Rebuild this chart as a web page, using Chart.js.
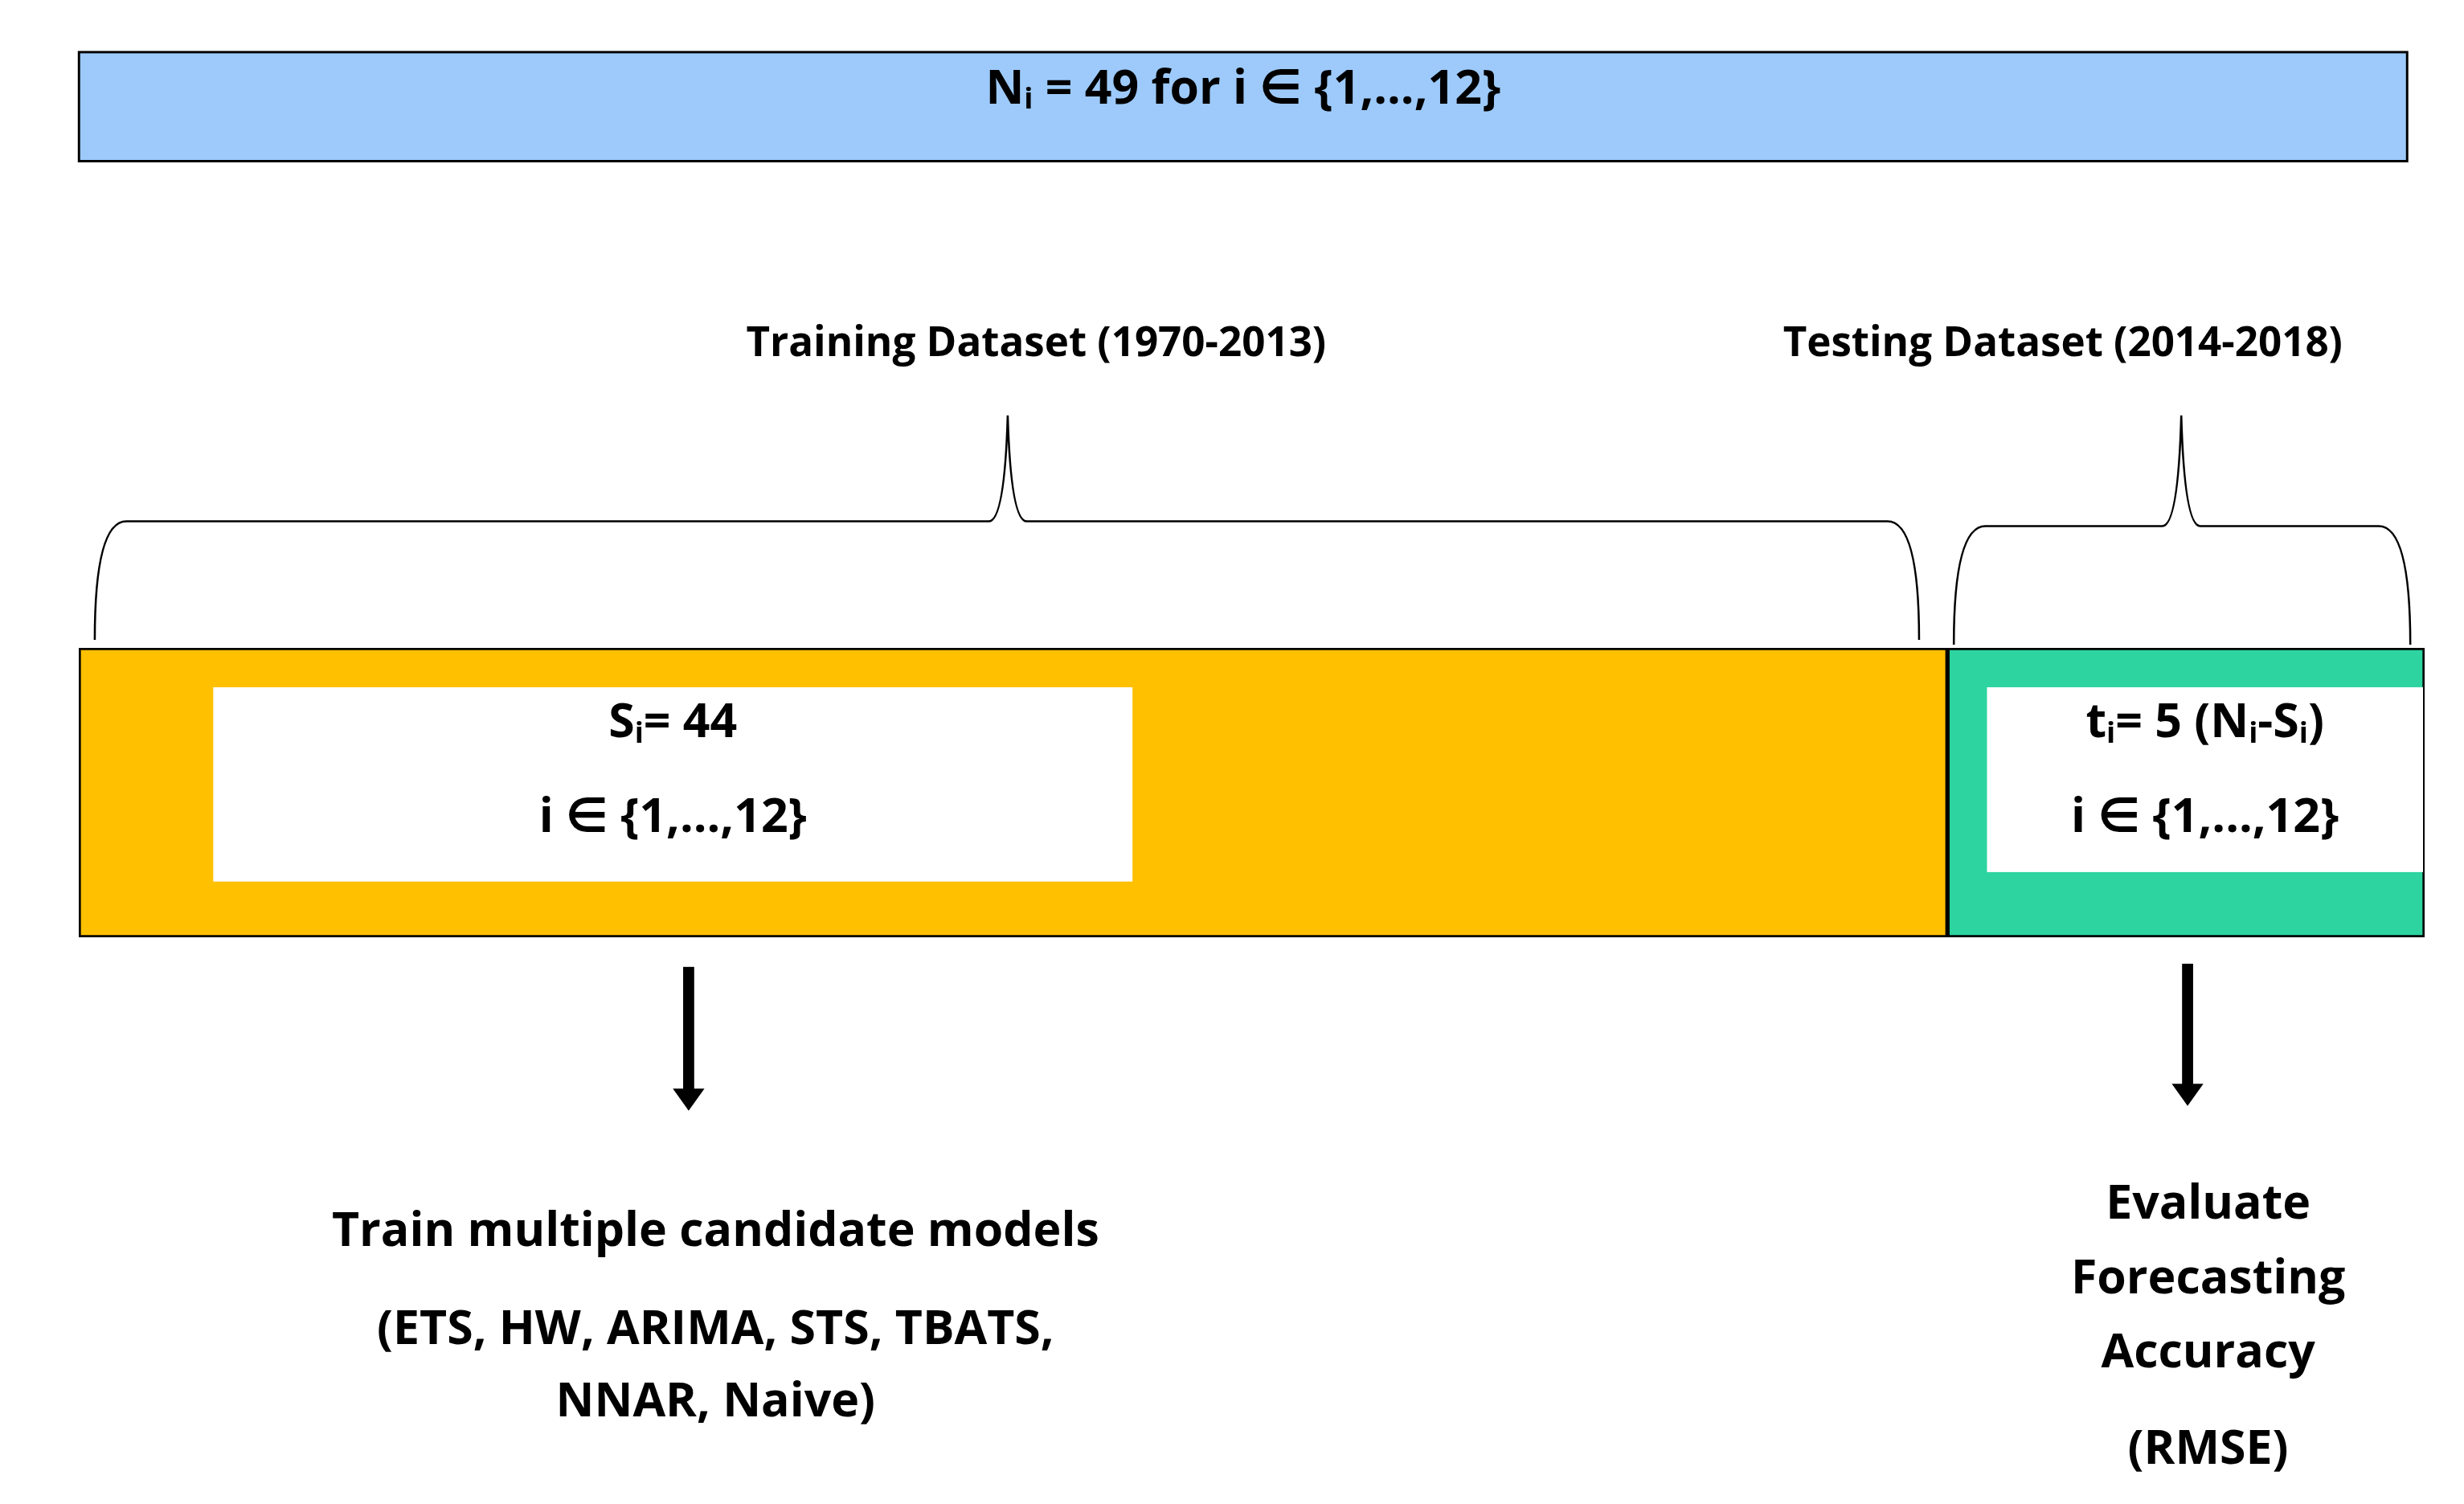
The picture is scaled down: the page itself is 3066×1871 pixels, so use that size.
<!DOCTYPE html>
<html><head><meta charset="utf-8">
<script src="https://cdn.jsdelivr.net/npm/chart.js@4"></script>
<style>html,body{margin:0;padding:0;background:#fff}#c{display:block}</style>
</head><body>
<div style="width:3066px;height:1871px"><canvas id="c"></canvas></div>
<script>
// Data
const segments = ['Training Dataset (1970-2013)', 'Testing Dataset (2014-2018)'];
const years = [44, 5];            // S_i and t_i
const layoutSpan = [[0, 79.66], [79.66, 100]]; // share of the timeline bar (diagram layout)
const colors = ['#FFC000', '#2DD4A0'];
const totalN = 49;

const S = 3066 / 1560;
const F = '"Open Sans", "DejaVu Sans", sans-serif';

function rich(ctx, parts, cx, cy, size) {
  const sub = size * 0.62;
  let w = 0;
  parts.forEach(p => { ctx.font = `bold ${p[1] ? sub : size}px ${F}`; p.w = ctx.measureText(p[0]).width; w += p.w; });
  let x = cx - w / 2;
  ctx.textBaseline = 'middle'; ctx.textAlign = 'left'; ctx.fillStyle = '#000';
  parts.forEach(p => { ctx.font = `bold ${p[1] ? sub : size}px ${F}`; ctx.fillText(p[0], x, cy + (p[1] ? size * 0.22 : 0)); x += p.w; });
}
function brace(ctx, x1, x2, xt, yl, yb, yt) {
  ctx.beginPath();
  ctx.moveTo(x1, yb);
  ctx.quadraticCurveTo(x1, yl, x1 + 20, yl);
  ctx.lineTo(xt - 12, yl);
  ctx.quadraticCurveTo(xt - 2, yl, xt, yt);
  ctx.quadraticCurveTo(xt + 2, yl, xt + 12, yl);
  ctx.lineTo(x2 - 20, yl);
  ctx.quadraticCurveTo(x2, yl, x2, yb);
  ctx.lineWidth = 1.3; ctx.strokeStyle = '#000'; ctx.stroke();
}
function arrow(ctx, x, y1, y2) {
  ctx.fillStyle = '#000';
  ctx.fillRect(x - 3.5, y1, 7, y2 - y1 - 12);
  ctx.beginPath(); ctx.moveTo(x - 10, y2 - 14); ctx.lineTo(x + 10, y2 - 14); ctx.lineTo(x, y2); ctx.closePath(); ctx.fill();
}

const deco = {
  id: 'deco',
  afterDatasetsDraw(chart) {
    const ctx = chart.ctx, xs = chart.scales.x;
    ctx.save(); ctx.scale(S, S);
    const px = v => xs.getPixelForValue(v) / S;
    const L = px(0), M = px(layoutSpan[0][1]), R = px(100);
    // top box
    ctx.fillStyle = '#9DCAFA'; ctx.fillRect(50, 33, 1474, 69);
    ctx.lineWidth = 1.5; ctx.strokeStyle = '#000'; ctx.strokeRect(50, 33, 1474, 69);
    rich(ctx, [['N'], ['i', 1], [' = ' + totalN + ' for i ∈ {1,...,12}']], 787, 57, 30);
    // labels
    ctx.font = `bold 26px ${F}`; ctx.textAlign = 'center'; ctx.fillStyle = '#000';
    ctx.fillText(segments[0], 656, 218);
    ctx.fillText(segments[1], 1306, 218);
    brace(ctx, 60, 1215, 638, 330, 405, 263);
    brace(ctx, 1237, 1526, 1381, 333, 408, 263);
    // white boxes
    ctx.fillStyle = '#fff';
    ctx.fillRect(135, 435, 582, 123);
    ctx.fillRect(1258, 435, R - 1258 - 1, 117);
    rich(ctx, [['S'], ['i', 1], ['= ' + years[0]]], 426, 458, 30);
    rich(ctx, [['i ∈ {1,...,12}']], 426, 518, 30);
    rich(ctx, [['t'], ['i', 1], ['= ' + years[1] + ' (N'], ['i', 1], ['-S'], ['i', 1], [')']], 1396, 458, 30);
    rich(ctx, [['i ∈ {1,...,12}']], 1396, 518, 30);
    arrow(ctx, 436, 612, 703);
    arrow(ctx, 1385, 610, 700);
    const lines = [['Train multiple candidate models', 453, 780], ['(ETS, HW, ARIMA, STS, TBATS,', 453, 842], ['NNAR, Naive)', 453, 888],
      ['Evaluate', 1398, 763], ['Forecasting', 1398, 810], ['Accuracy', 1398, 857], ['(RMSE)', 1398, 918]];
    lines.forEach(l => rich(ctx, [[l[0]]], l[1], l[2], 30));
    ctx.restore();
  }
};

new Chart(document.getElementById('c'), {
  type: 'bar',
  data: {
    labels: ['Timeline'],
    datasets: segments.map((s, i) => ({
      label: s, data: [layoutSpan[i]], backgroundColor: colors[i],
      borderColor: '#000', borderWidth: 3, borderSkipped: false,
      barPercentage: 1, categoryPercentage: 1, grouped: false
    }))
  },
  options: {
    indexAxis: 'y', responsive: true, maintainAspectRatio: false, animation: false,
    devicePixelRatio: 1,
    layout: { padding: { left: 98, right: 49, top: 806, bottom: 705 } },
    plugins: { legend: { display: false }, tooltip: { enabled: false } },
    scales: { x: { display: false, min: 0, max: 100 }, y: { display: false } }
  },
  plugins: [deco]
});
</script>
</body></html>
